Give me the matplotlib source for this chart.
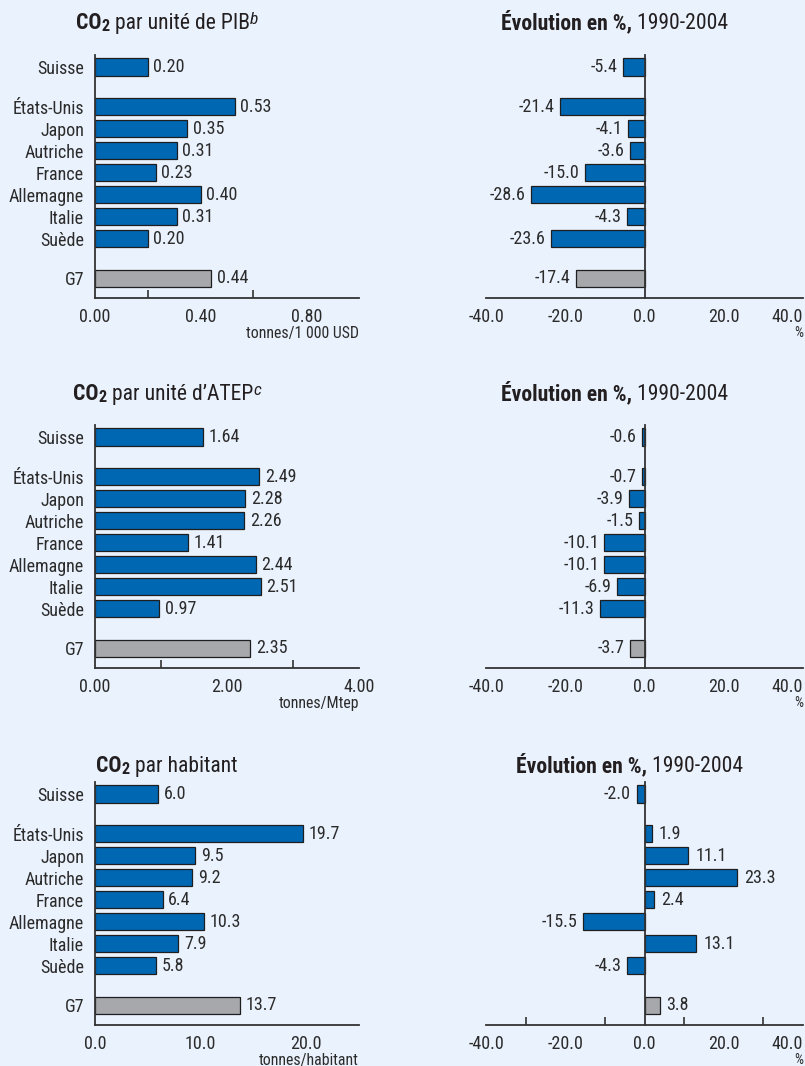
import matplotlib
import numpy as np

matplotlib.use("Agg")

from matplotlib import font_manager
from matplotlib import pyplot as plt
from matplotlib.ticker import FixedLocator, FormatStrFormatter

countries = ["Suisse", "États-Unis", "Japon", "Autriche", "France", "Allemagne", "Italie", "Suède", "G7"]
co2_pib = [0.20, 0.53, 0.35, 0.31, 0.23, 0.40, 0.31, 0.20, 0.44]
evol_pib = [-5.4, -21.4, -4.1, -3.6, -15.0, -28.6, -4.3, -23.6, -17.4]
co2_atep = [1.64, 2.49, 2.28, 2.26, 1.41, 2.44, 2.51, 0.97, 2.35]
evol_atep = [-0.6, -0.7, -3.9, -1.5, -10.1, -10.1, -6.9, -11.3, -3.7]
co2_hab = [6.0, 19.7, 9.5, 9.2, 6.4, 10.3, 7.9, 5.8, 13.7]
evol_hab = [-2.0, 1.9, 11.1, 23.3, 2.4, -15.5, 13.1, -4.3, 3.8]

BG = "#eaf2fd"
BLUE = "#0067b3"
GREY = "#a7a8ab"
EDGE = "#1e1e1e"
TEXT = "#2b2b2b"
W, H = 805, 1066


def pick_font():
    # the reference uses a condensed grotesque; take the narrowest one available
    entries = font_manager.fontManager.ttflist
    names = {f.name for f in entries}
    for name in ("Liberation Sans Narrow", "Roboto Condensed", "Open Sans Condensed", "Noto Sans Condensed"):
        if name in names:
            return name, "normal", 13
    for name in ("Roboto", "Noto Sans", "Open Sans", "DejaVu Sans"):
        for f in entries:
            if f.name == name and str(f.stretch) in ("condensed", "semi-condensed", "75", "87"):
                return name, str(f.stretch), 13
    return "Liberation Sans", "normal", 11.5


FAMILY, STRETCH, FS = pick_font()
plt.rcParams["font.family"] = [FAMILY, "DejaVu Sans"]
plt.rcParams["font.stretch"] = STRETCH
plt.rcParams["text.color"] = TEXT
plt.rcParams["xtick.color"] = TEXT
plt.rcParams["xtick.labelcolor"] = TEXT
plt.rcParams["ytick.labelcolor"] = TEXT

# group gaps: Suisse | 7 countries | G7
y_pos = np.array([0.0, 1.8, 2.8, 3.8, 4.8, 5.8, 6.8, 7.8, 9.6])
bar_colors = [BLUE] * 8 + [GREY]


def px_rect(x0, x1, top, bottom):
    return [x0 / W, 1 - bottom / H, (x1 - x0) / W, (bottom - top) / H]


def style_axis(ax):
    ax.set_facecolor(BG)
    for side in ("top", "right"):
        ax.spines[side].set_visible(False)
    for side in ("left", "bottom"):
        ax.spines[side].set_color("#333333")
        ax.spines[side].set_linewidth(1.3)
    ax.set_ylim(10.5, -0.55)
    ax.tick_params(axis="x", which="major", length=0, labelsize=FS, pad=7)
    ax.tick_params(axis="x", which="minor", direction="in", length=6, width=1.2, color="#333333")


def draw_level_panel(ax, values, xmax, major, minor, fmt, unit):
    style_axis(ax)
    ax.barh(y_pos, values, height=0.79, color=bar_colors, edgecolor=EDGE, linewidth=0.9)
    ax.set_xlim(0, xmax)
    ax.xaxis.set_major_locator(FixedLocator(major))
    ax.xaxis.set_minor_locator(FixedLocator(minor))
    ax.xaxis.set_major_formatter(FormatStrFormatter(fmt))
    ax.set_yticks(y_pos)
    ax.set_yticklabels(countries)
    ax.tick_params(axis="y", length=0, labelsize=FS, pad=8)
    for y, v in zip(y_pos, values):
        ax.annotate(fmt % v, (v, y), xytext=(4, 0), textcoords="offset points",
                    ha="left", va="center", fontsize=FS)
    ax.text(1.0, -0.145, unit, transform=ax.transAxes, ha="right", va="center", fontsize=FS * 0.88)


def draw_change_panel(ax, values, minor):
    style_axis(ax)
    ax.barh(y_pos, values, height=0.79, color=bar_colors, edgecolor=EDGE, linewidth=0.9)
    ax.set_xlim(-40, 40)
    ax.spines["left"].set_position(("data", 0))
    ax.set_yticks([])
    ax.xaxis.set_major_locator(FixedLocator([-40, -20, 0, 20, 40]))
    ax.xaxis.set_minor_locator(FixedLocator(minor))
    ax.xaxis.set_major_formatter(FormatStrFormatter("%.1f"))
    labels = ax.get_xticklabels()
    labels[-1].set_horizontalalignment("right")
    for y, v in zip(y_pos, values):
        if v < 0:
            ax.annotate("%.1f" % v, (v, y), xytext=(-4, 0), textcoords="offset points",
                        ha="right", va="center", fontsize=FS)
        else:
            ax.annotate("%.1f" % v, (v, y), xytext=(5, 0), textcoords="offset points",
                        ha="left", va="center", fontsize=FS)
    ax.text(1.0, -0.145, "%", transform=ax.transAxes, ha="right", va="center", fontsize=FS * 0.8)


def draw_title(fig, cx, cy, pieces):
    # pieces: (text, weight, style, size factor, vertical shift in px)
    renderer = fig.canvas.get_renderer()
    texts = []
    for text, weight, style, scale, dy in pieces:
        t = fig.text(0, 0, text, fontsize=FS * 1.2 * scale, fontweight=weight, fontstyle=style,
                     ha="left", va="baseline", color="#231f20")
        texts.append((t, dy))
    widths = [t.get_window_extent(renderer).width for t, _ in texts]
    x = cx - sum(widths) / 2
    for (t, dy), w in zip(texts, widths):
        t.set_position((x / W, 1 - (cy - dy) / H))
        x += w


fig = plt.figure(figsize=(W / 100, H / 100), dpi=100, facecolor=BG)

rows = [(55, 298), (425, 668), (782, 1025)]
title_base = [29, 400, 772]

ax1 = fig.add_axes(px_rect(95, 359, *rows[0]))
draw_level_panel(ax1, co2_pib, 1.0, [0, 0.4, 0.8], [0.2, 0.4, 0.6, 0.8], "%.2f", "tonnes/1 000 USD")
ax2 = fig.add_axes(px_rect(486, 803, *rows[0]))
draw_change_panel(ax2, evol_pib, [-20, 20])

ax3 = fig.add_axes(px_rect(95, 359, *rows[1]))
draw_level_panel(ax3, co2_atep, 4.0, [0, 2, 4], [1, 2, 3], "%.2f", "tonnes/Mtep")
ax4 = fig.add_axes(px_rect(486, 803, *rows[1]))
draw_change_panel(ax4, evol_atep, [-20, 20])

ax5 = fig.add_axes(px_rect(95, 359, *rows[2]))
draw_level_panel(ax5, co2_hab, 25.0, [0, 10, 20], [10, 20], "%.1f", "tonnes/habitant")
ax6 = fig.add_axes(px_rect(486, 803, *rows[2]))
draw_change_panel(ax6, evol_hab, [-30, -20, -10, 10, 20, 30])

left_titles = [
    [("CO", "bold", "normal", 1.0, 0), ("2", "bold", "normal", 0.75, -2), (" par unité de PIB", "normal", "normal", 1.0, 0), ("b", "normal", "italic", 0.8, 5)],
    [("CO", "bold", "normal", 1.0, 0), ("2", "bold", "normal", 0.75, -2), (" par unité d’ATEP", "normal", "normal", 1.0, 0), ("c", "normal", "italic", 0.8, 5)],
    [("CO", "bold", "normal", 1.0, 0), ("2", "bold", "normal", 0.75, -2), (" par habitant", "normal", "normal", 1.0, 0)],
]
right_title = [("Évolution en %,", "bold", "normal", 1.0, 0), (" 1990-2004", "normal", "normal", 1.0, 0)]
right_x = [615, 615, 630]

for ty, lt, rx in zip(title_base, left_titles, right_x):
    draw_title(fig, 167, ty, lt)
    draw_title(fig, rx, ty, right_title)

fig.savefig("out.png", dpi=100, facecolor=BG)
plt.close(fig)
